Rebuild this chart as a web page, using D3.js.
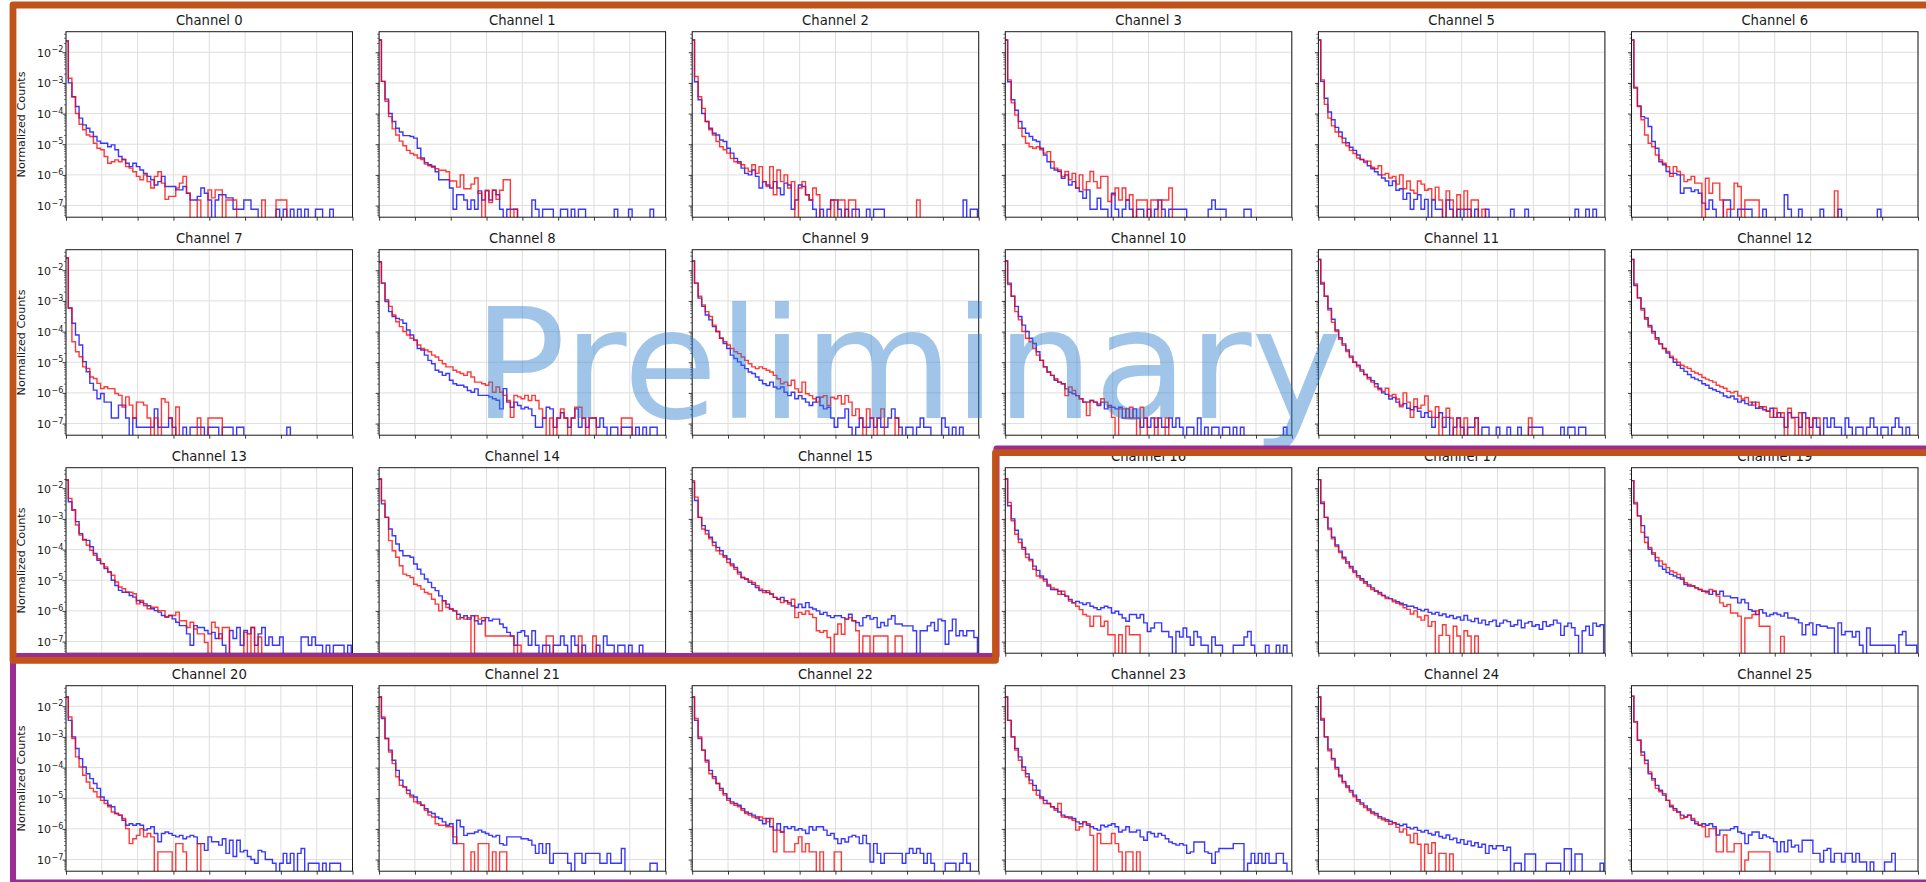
<!DOCTYPE html>
<html>
<head>
<meta charset="utf-8">
<script src="https://cdn.jsdelivr.net/npm/d3@7"></script>
<style>
  html, body { margin: 0; padding: 0; background: #ffffff; }
  svg { display: block; }
  text { font-family: "DejaVu Sans", "Liberation Sans", sans-serif; }
</style>
</head>
<body>
<svg id="chart" width="1926" height="882"></svg>
<script>
// Empty histogram bin (zero counts)
const _ = null;

// Channels shown, in reading order (6 per row)
const channels = [0, 1, 2, 3, 5, 6, 7, 8, 9, 10, 11, 12, 13, 14, 15, 16, 17, 19, 20, 21, 22, 23, 24, 25];

// Bin layout (bin units) and axis ticks
const binStart = -0.35;
const binWidth = 1;
const xTicks = [0, 10, 20, 30, 40, 50, 60, 70, 80];
const yDecades = [-2, -3, -4, -5, -6, -7];
const yLimitsLog = [-7.38, -1.33];
const yAxisLabel = "Normalized Counts";
const watermarkText = "Preliminary";

// log10(normalized counts) per bin, blue and red histograms for each channel
const blue0 = [-1.63,-3.0,-3.45,-3.77,-4.15,-4.37,-4.48,-4.6,-4.75,-4.9,-4.97,-4.97,-5.08,-5.02,-5.18,-5.4,-5.5,-5.62,-5.73,-5.62,-5.73,-5.84,-5.95,-6.05,-6.16,-6.33,-6.22,-6.05,-6.38,-6.38,-6.38,-6.49,-6.49,-6.38,-6.6,-6.82,-6.82,-6.7,-6.43,-6.6,-6.82,_,-6.82,-6.65,-6.65,-6.75,-6.75,-7.12,-7.12,-7.12,-6.82,-6.82,-7.12,-7.12,_,_,_,_,_,-7.12,_,-7.12,_,-7.12,_,-7.12,_,-7.12,_,_,-7.12,-7.12,_,_,-7.12];
const red0 = [-1.63,-2.85,-3.45,-4.0,-4.35,-4.53,-4.7,-4.75,-4.97,-5.13,-5.18,-5.4,-5.62,-5.57,-5.51,-5.57,-5.5,-5.73,-5.78,-5.9,-6.05,-6.16,-6.0,-6.22,-6.43,-6.05,-5.9,-6.27,-6.8,-6.7,-6.7,-6.43,-6.27,-6.05,-6.6,_,_,-6.82,_,_,-6.49,-6.75,-6.49,-6.49,_,-6.82,-6.82,-6.82,_,_,_,_,_,_,_,-6.82,_,_,_,-6.82,-6.82,-6.82];

const blue1 = [-1.6,-2.95,-3.53,-4.0,-4.26,-4.48,-4.6,-4.72,-4.72,-4.75,-4.8,-5.13,-5.45,-5.6,-5.67,-5.72,-5.9,-6.16,-6.16,-6.16,-6.43,-7.12,-6.65,-6.65,-6.82,-7.12,-6.82,-7.12,-6.52,-6.82,-6.52,-6.82,-6.5,-6.65,-7.12,_,-7.12,-7.12,-7.12,_,_,_,_,-6.82,-7.12,_,-7.12,-7.12,-7.12,_,_,-7.12,-7.12,_,-7.12,_,-7.12,-7.12,_,_,_,_,_,_,_,_,-7.12,_,_,_,-7.12,_,_,_,_,_,-7.12];
const red1 = [-1.6,-2.95,-3.6,-4.1,-4.5,-4.7,-4.9,-5.05,-5.2,-5.3,-5.35,-5.45,-5.5,-5.65,-5.7,-5.75,-5.8,-5.85,-5.85,-5.9,-6.2,-6.2,-6.4,-6.0,-6.45,-6.45,-6.3,-6.1,-6.6,_,-6.5,-6.9,-6.5,-6.8,-6.5,-6.16,-6.16,_,-7.12];

const blue2 = [-1.6,-2.96,-3.55,-4.0,-4.26,-4.48,-4.64,-4.7,-4.86,-4.91,-5.13,-5.29,-5.46,-5.57,-5.78,-5.95,-6.0,-5.84,-6.05,-6.43,-6.22,-6.33,-6.43,-6.22,-6.43,-6.65,-6.27,-6.33,-7.12,-6.82,-6.33,-6.38,-6.65,-6.82,-7.12,_,-7.12,_,-7.12,-6.82,-6.82,-7.12,_,-7.12,_,-7.12,-7.12,_,_,-7.12,_,-7.12,-7.12,-7.12,_,_,_,_,_,_,_,_,_,_,_,_,_,_,_,_,_,_,_,_,_,_,-6.82,_,-7.12,-7.12];
const red2 = [-1.6,-2.79,-3.45,-3.83,-4.26,-4.53,-4.7,-4.91,-5.08,-5.18,-5.29,-5.46,-5.57,-5.62,-5.67,-5.78,-5.89,-5.67,-5.95,-5.73,-6.22,-6.38,-5.73,-6.65,-5.84,-6.22,-6.0,-6.43,-6.22,_,-6.43,-6.22,-6.65,-6.82,-6.43,-6.65,_,_,_,-6.82,_,-6.82,-6.82,_,-6.82,-6.82,_,_,_,_,_,_,_,_,_,_,_,_,_,_,_,_,_,-6.82];

const blue3 = [-1.6,-2.96,-3.55,-3.89,-4.26,-4.48,-4.64,-4.75,-4.86,-4.91,-5.13,-5.35,-5.57,-5.78,-5.84,-5.89,-6.11,-6.0,-6.33,-6.22,-6.43,-6.54,-6.76,-6.49,-7.12,-7.12,-6.76,-7.12,-7.12,_,-6.6,-7.12,_,-7.12,-6.82,-7.12,_,-7.12,-7.12,_,-7.12,_,-7.12,-6.82,-7.12,_,-7.12,-7.12,-7.12,-7.12,-7.12,_,_,_,_,_,_,-7.12,-6.82,-7.12,-7.12,-7.12,_,_,_,_,_,-7.12,-7.12];
const red3 = [-1.6,-2.9,-3.65,-4.05,-4.48,-4.75,-4.97,-5.08,-5.13,-5.08,-5.18,-5.29,-5.24,-5.57,-5.78,-5.84,-6.05,-5.89,-6.16,-5.95,-6.43,-6.0,-6.49,-6.22,-5.89,-6.22,-6.43,-6.05,-6.05,-6.87,-6.65,-6.43,-6.82,-6.43,-6.82,-6.65,_,-6.82,-6.82,-6.82,_,-6.82,-6.82,_,-6.82,-6.82,-6.43];

const blue5 = [-1.6,-2.95,-3.5,-3.95,-4.2,-4.45,-4.6,-4.8,-4.95,-5.1,-5.2,-5.35,-5.5,-5.55,-5.7,-5.8,-5.9,-6.0,-6.1,-6.2,-6.35,-6.2,-6.5,-6.45,-6.8,-6.6,-7.12,-6.8,-6.65,-7.12,-6.8,_,-6.82,-7.12,-7.12,_,-6.82,-7.12,_,-7.12,_,-7.12,-7.12,_,-7.12,_,_,-7.12,_,_,_,_,_,_,-7.12,_,_,_,-7.12,_,_,_,_,_,_,_,_,_,_,_,_,_,-7.12,_,_,-7.12,_,-7.12];
const red5 = [-1.6,-2.9,-3.7,-4.15,-4.4,-4.6,-4.75,-4.95,-5.05,-5.2,-5.3,-5.45,-5.5,-5.6,-5.55,-5.75,-5.8,-5.7,-6.0,-5.95,-6.1,-6.05,-6.3,-6.0,-6.45,-6.2,-6.5,-6.6,-6.2,-6.3,-6.5,-6.45,-6.8,-6.4,-6.82,_,-6.52,-6.82,_,-6.65,-7.12,-6.52,_,-6.82,-6.82,_,-7.12];

const blue6 = [-1.6,-3.17,-3.75,-4.1,-4.15,-4.42,-4.91,-5.13,-5.57,-5.67,-5.89,-5.95,-5.95,-6.0,-6.6,-6.43,-6.43,-6.54,-6.49,-6.6,-6.92,-7.12,-6.82,-7.12,_,_,-6.82,-6.82,_,_,-7.12,-7.12,-7.12,-7.12,_,_,_,-7.12,_,_,_,_,_,-6.65,-7.12,_,_,-7.12,_,_,_,_,_,-7.12,_,_,_,_,-7.12,_,_,_,_,_,_,_,_,_,_,-7.12];
const red6 = [-1.6,-3.14,-3.77,-4.2,-4.7,-4.97,-5.08,-5.35,-5.51,-5.62,-5.73,-6.05,-5.73,-5.89,-6.0,-6.22,-6.16,-6.05,-6.27,-6.27,_,-6.11,-6.6,-6.27,-6.27,-6.82,_,-7.12,-7.12,-6.27,-6.38,_,-6.82,-6.82,-6.82,-6.82,_,_,_,_,_,_,_,_,_,_,_,_,_,_,_,_,_,_,_,_,_,-6.52];

const blue7 = [-1.6,-3.23,-3.73,-4.11,-4.44,-4.98,-5.31,-5.69,-5.91,-6.19,-6.02,-6.3,-6.3,-6.82,-6.82,-6.4,-6.4,-6.82,_,-6.82,-7.12,-7.12,-7.12,-7.12,-7.12,-6.52,-7.12,-7.12,-7.12,-6.82,-7.12,_,_,-7.12,_,-7.12,-7.12,-7.12,-7.12,_,-7.12,-7.12,-7.12,_,-7.12,-7.12,-7.12,_,-7.12,-7.12,_,_,_,_,_,_,_,_,_,_,_,_,-7.12];
const red7 = [-1.6,-3.23,-4.33,-4.66,-4.82,-5.15,-5.2,-5.48,-5.53,-5.69,-5.86,-5.8,-5.86,-5.86,-6.02,-6.08,-6.46,-6.13,-6.4,-6.82,-6.3,-6.3,-6.4,-6.82,_,-6.82,_,-6.19,-6.3,-6.82,_,-6.46,_,_,_,_,_,-6.82,_,_,-6.82,-6.82,-6.82,-6.82];

const blue8 = [-1.73,-2.42,-3.02,-3.35,-3.51,-3.57,-3.62,-3.73,-3.95,-4.11,-4.28,-4.55,-4.6,-4.77,-4.94,-5.05,-5.26,-5.32,-5.43,-5.37,-5.59,-5.7,-5.75,-5.75,-5.81,-5.92,-5.98,-5.87,-6.08,-6.08,-6.08,-6.13,-6.19,-6.24,-6.52,-5.86,-6.3,-6.47,-6.3,-6.41,-6.52,-6.47,-6.52,-6.74,-7.12,-7.12,-6.82,-6.47,-6.52,-7.12,-6.82,-6.65,-6.82,-7.12,-6.82,-6.52,-7.12,-6.82,-7.12,-6.82,-6.82,-7.12,-6.82,-7.12,_,-7.12,-7.12,_,-7.12,-7.12,-7.12,_,-7.12,_,-7.12,_,-7.12,-7.12];
const red8 = [-1.73,-2.42,-2.96,-3.18,-3.46,-3.68,-3.84,-4.0,-4.11,-4.22,-4.28,-4.44,-4.55,-4.6,-4.66,-4.77,-4.83,-4.94,-5.05,-5.15,-5.15,-5.26,-5.32,-5.37,-5.43,-5.32,-5.48,-5.65,-5.65,-5.7,-5.75,-5.65,-5.98,-5.81,-5.98,-6.08,-6.25,-6.8,-6.08,-6.13,-6.19,-6.08,-6.25,-6.08,-6.25,-6.52,-6.82,_,-6.82,_,-6.82,-6.52,-6.82,_,-6.82,-6.47,-6.47,-6.82,_,-6.82,-6.82,_,_,_,_,_,_,_,-6.82,-6.82,-6.82];

const blue9 = [-1.7,-2.42,-2.91,-3.18,-3.46,-3.62,-3.84,-4.0,-4.22,-4.39,-4.55,-4.77,-4.88,-4.99,-5.1,-5.21,-5.32,-5.37,-5.48,-5.59,-5.7,-5.76,-5.65,-5.81,-5.87,-5.81,-5.98,-6.09,-5.98,-6.19,-6.09,-6.19,-6.3,-6.41,-6.3,-6.14,-6.41,-6.52,-6.47,-6.82,-7.12,-6.82,-6.82,-6.52,-7.12,_,-7.12,-6.82,-7.12,-7.12,-6.82,-7.12,-6.82,-7.12,-7.12,-6.82,-6.52,-6.82,-7.12,_,-7.12,-7.12,_,-7.12,-6.82,-7.12,-7.12,_,_,_,-6.82,-7.12,_,-7.12,_,-7.12];
const red9 = [-1.7,-2.42,-2.85,-3.13,-3.35,-3.51,-3.79,-4.0,-4.22,-4.33,-4.44,-4.55,-4.66,-4.72,-4.83,-4.94,-5.05,-5.15,-5.21,-5.15,-5.21,-5.26,-5.32,-5.43,-5.54,-5.7,-5.65,-5.76,-5.59,-5.87,-5.98,-5.65,-6.03,-6.09,-6.19,-6.3,-6.14,-6.09,-6.41,-6.14,-6.19,-6.09,-6.36,-6.09,-6.3,-6.74,-6.52,-6.82,_,-6.52,-6.82,_,-6.82,-6.52,_,_,_,-6.82];

const blue10 = [-1.7,-2.42,-2.85,-3.18,-3.51,-3.79,-4.0,-4.22,-4.39,-4.66,-4.94,-5.15,-5.32,-5.43,-5.59,-5.65,-5.7,-5.87,-5.98,-6.03,-6.09,-6.19,-6.3,-6.3,-6.25,-6.3,-6.41,-6.3,-6.52,-6.41,-6.47,-6.52,-6.47,-6.82,-6.52,-6.82,-6.52,-6.82,-7.12,-6.82,-7.12,-6.82,-7.12,-6.82,-7.12,-7.12,-6.82,-7.12,-6.82,-7.12,_,-7.12,-7.12,_,-6.82,_,-7.12,_,-7.12,-7.12,_,-7.12,-7.12,_,-7.12,_,-7.12,_,_,_,_,_,_,_,_,_,_,_,-7.12];
const red10 = [-1.7,-2.47,-2.85,-3.35,-3.62,-4.0,-4.22,-4.33,-4.55,-4.77,-4.94,-5.15,-5.32,-5.43,-5.54,-5.65,-5.7,-6.09,-5.81,-5.92,-6.09,-6.19,-6.3,-6.74,-6.25,-6.3,-6.36,-6.19,-6.3,-6.47,-6.8,_,-6.52,-6.52,-6.82,-6.47,-6.82,_,-6.47,-6.82,_,_,-6.82,_,_,-6.82];

const blue11 = [-1.65,-2.45,-2.85,-3.25,-3.6,-3.95,-4.2,-4.4,-4.6,-4.8,-5.0,-5.1,-5.25,-5.4,-5.5,-5.6,-5.7,-5.85,-6.0,-6.05,-6.2,-6.15,-6.3,-6.4,-6.35,-6.5,-6.55,-6.45,-6.6,-6.8,-6.65,-6.8,-7.12,-6.8,-6.65,-7.12,-6.8,_,-7.12,-6.82,-7.12,_,-7.12,-7.12,-6.82,_,-7.12,-7.12,_,_,-7.12,_,_,-7.12,_,_,-7.12,_,_,-7.12,-7.12,-7.12,-7.12,_,_,_,_,_,-7.12,_,-7.12,-7.12,_,-7.12,-7.12];
const red11 = [-1.65,-2.4,-2.85,-3.3,-3.7,-4.0,-4.25,-4.45,-4.65,-4.85,-5.0,-5.15,-5.3,-5.4,-5.55,-5.65,-5.8,-5.9,-5.95,-5.85,-6.1,-6.05,-6.2,-6.45,-6.0,-6.3,-6.8,-6.2,-6.5,-6.4,-6.1,-6.6,-6.8,-6.45,_,-6.8,-6.5,-6.82,_,-6.82,_,-6.82,_,_,-6.82,_,_,_,_,_,_,_,_,_,_,_,_,_,_,-6.82];

const blue12 = [-1.65,-2.5,-2.9,-3.25,-3.55,-3.8,-4.0,-4.2,-4.4,-4.55,-4.7,-4.85,-5.0,-5.1,-5.2,-5.3,-5.4,-5.5,-5.55,-5.6,-5.7,-5.75,-5.85,-5.9,-5.95,-6.0,-6.1,-6.15,-6.1,-6.2,-6.3,-6.25,-6.35,-6.4,-6.3,-6.5,-6.45,-6.55,-6.6,-6.5,-6.8,-6.65,-6.8,-7.12,-6.65,-6.8,-6.8,-7.12,-6.65,-6.82,-7.12,-6.82,-7.12,_,-6.82,-7.12,-6.82,-7.12,-7.12,_,-6.82,-7.12,_,-7.12,-7.12,_,-7.12,-6.82,-7.12,_,-7.12,-7.12,_,-7.12,-6.82,-7.12,_,-7.12];
const red12 = [-1.65,-2.45,-2.9,-3.3,-3.6,-3.85,-4.05,-4.25,-4.4,-4.55,-4.65,-4.8,-4.9,-5.0,-5.1,-5.15,-5.2,-5.3,-5.35,-5.4,-5.5,-5.55,-5.6,-5.65,-5.75,-5.8,-5.85,-5.95,-6.0,-5.95,-6.1,-6.2,-6.15,-6.3,-6.4,-6.3,-6.5,-6.45,-6.6,-6.8,-6.5,-6.8,-6.65,_,-6.5,-6.82,_,-6.65,_,-6.82,_,-6.82,-6.82];

const blue13 = [-1.73,-2.44,-2.71,-3.09,-3.48,-3.67,-3.7,-3.91,-4.13,-4.35,-4.46,-4.62,-4.73,-5.0,-5.17,-5.33,-5.39,-5.39,-5.5,-5.55,-5.66,-5.72,-5.77,-5.83,-5.93,-5.99,-6.04,-6.15,-6.2,-6.15,-6.26,-6.37,-6.48,-6.48,-6.75,-7.12,-6.48,-6.54,-6.54,-6.64,-6.75,-6.7,-6.9,-6.75,-7.12,_,-6.64,-6.9,-6.54,-7.12,-6.64,-6.75,-6.54,-7.12,-6.75,-6.54,-7.12,-6.85,-7.12,-7.12,-6.85,_,_,_,_,_,-6.85,-6.85,-7.12,-6.85,-7.12,-7.12,_,-7.12,_,-7.12,-7.12,-7.12,_,-7.12];
const red13 = [-1.73,-2.33,-2.71,-3.2,-3.53,-3.69,-3.86,-4.02,-4.19,-4.3,-4.46,-4.57,-4.73,-4.84,-5.06,-5.22,-5.28,-5.39,-5.39,-5.44,-5.77,-5.66,-5.83,-5.93,-5.88,-5.88,-5.99,-5.99,-6.2,-6.15,-6.15,-6.04,-6.32,-6.32,-6.54,-6.37,-6.59,-6.75,-6.75,-7.03,_,-6.37,-6.54,-6.9,-6.54,-6.54,_,_,_,_,-6.7,_,-6.54,_,-6.85];

const blue14 = [-1.7,-2.51,-2.95,-3.33,-3.55,-3.82,-4.04,-4.2,-4.2,-4.25,-4.47,-4.64,-4.8,-4.96,-5.07,-5.24,-5.34,-5.51,-5.67,-5.78,-5.94,-6.0,-6.11,-6.22,-6.16,-6.27,-6.16,-6.32,-6.43,-6.32,-6.22,-6.32,-6.27,-6.27,-6.43,-6.54,-6.7,-6.82,-7.12,-6.7,-6.65,-6.82,-7.12,-6.65,-7.12,_,-7.12,-7.12,_,-7.12,-7.12,-6.82,-7.12,_,-6.82,-7.12,_,-7.12,_,_,_,-7.12,_,-6.82,-7.12,-7.12,_,-7.12,-7.12,_,-7.12,_,_,-7.12];
const red14 = [-1.7,-2.4,-2.95,-3.71,-4.04,-4.25,-4.53,-4.8,-4.85,-4.91,-5.13,-5.18,-5.29,-5.4,-5.45,-5.62,-5.78,-6.0,-5.67,-5.89,-5.94,-6.0,-6.27,-6.22,-6.27,-6.22,_,-6.16,-6.27,-6.22,-6.82,-6.82,-6.82,-6.82,-6.82,-6.82,-6.82,-6.82,_,-7.12,_,_,_,_,_,_,_,-6.82,-6.82,_,_,_,_,_,_,_,-6.82,_,_,_,-6.82];

const blue15 = [-1.8,-2.4,-2.95,-3.22,-3.38,-3.6,-3.76,-3.93,-4.04,-4.2,-4.31,-4.47,-4.58,-4.74,-4.91,-4.96,-5.07,-5.13,-5.24,-5.34,-5.34,-5.4,-5.45,-5.56,-5.62,-5.56,-5.67,-5.73,-5.84,-5.89,-5.78,-5.89,-5.73,-5.89,-5.94,-6.0,-6.11,-6.05,-6.16,-6.22,-6.16,-6.16,-6.22,-6.27,-6.11,-6.32,-6.38,-6.49,-6.22,-6.16,-6.27,-6.22,-6.54,-6.38,-6.49,-6.27,-6.16,-6.43,-6.43,-6.49,-6.49,-6.49,-6.65,_,-6.65,-6.65,-6.49,-6.38,-6.65,-6.27,-6.32,-7.09,-6.65,-6.27,-6.81,-6.65,-6.81,-6.65,-6.65,-6.87];
const red15 = [-1.75,-2.29,-2.95,-3.33,-3.49,-3.65,-3.87,-4.04,-4.15,-4.25,-4.42,-4.53,-4.64,-4.8,-4.91,-4.96,-5.02,-5.07,-5.18,-5.29,-5.4,-5.34,-5.45,-5.56,-5.62,-5.73,-5.67,-5.78,-5.62,-6.22,-6.05,-6.11,-6.0,-6.11,-6.22,-6.65,-6.7,-6.65,-6.87,_,-6.76,-6.43,-6.76,-6.27,-6.22,-6.32,-6.65,_,-6.82,-6.82,_,-6.82,-6.82,-6.82,-6.82,_,_,-6.82,-6.82];

const blue16 = [-1.69,-2.57,-3.0,-3.37,-3.66,-3.93,-4.15,-4.32,-4.54,-4.68,-4.86,-4.97,-5.19,-5.3,-5.3,-5.36,-5.46,-5.52,-5.63,-5.74,-5.69,-5.74,-5.79,-5.74,-5.85,-5.9,-5.96,-5.9,-5.85,-5.9,-6.07,-6.01,-6.12,-6.23,-6.34,-6.12,-6.12,-6.23,-6.12,-6.39,-6.67,-6.56,-6.39,-6.39,-6.67,-6.67,-6.85,_,-6.67,-6.85,-6.56,-6.85,-7.12,-6.67,-6.85,-7.12,-7.12,_,-6.85,-7.12,-7.12,_,_,_,-7.12,-7.12,-7.12,-6.85,-6.67,-7.12,_,_,_,-7.12,_,_,-7.12,_,-7.12];
const red16 = [-1.69,-2.46,-3.06,-3.5,-3.77,-3.99,-4.26,-4.37,-4.64,-4.86,-4.92,-5.03,-5.14,-5.25,-5.3,-5.46,-5.36,-5.52,-5.68,-5.74,-5.85,-5.96,-6.12,-6.17,-6.5,-6.17,-6.17,-6.5,-6.34,-6.78,-6.78,_,-6.78,_,-6.5,-6.78,-6.78,-6.78];

const blue17 = [-1.72,-2.5,-2.95,-3.3,-3.6,-3.85,-4.05,-4.25,-4.4,-4.55,-4.7,-4.85,-4.95,-5.05,-5.15,-5.25,-5.35,-5.4,-5.5,-5.55,-5.6,-5.65,-5.7,-5.75,-5.8,-5.85,-5.85,-5.9,-5.95,-6.0,-5.95,-6.05,-6.1,-6.05,-6.15,-6.1,-6.2,-6.15,-6.25,-6.2,-6.3,-6.15,-6.3,-6.35,-6.25,-6.4,-6.3,-6.45,-6.35,-6.3,-6.5,-6.4,-6.3,-6.35,-6.5,-6.45,-6.3,-6.55,-6.4,-6.35,-6.5,-6.45,-6.6,-6.35,-6.5,-6.45,-6.3,-6.4,-6.8,-6.5,-6.4,-6.55,-6.8,_,-6.65,-6.5,-6.8,-6.4,-6.5,-6.45];
const red17 = [-1.72,-2.45,-2.95,-3.35,-3.65,-3.9,-4.1,-4.3,-4.45,-4.6,-4.75,-4.9,-5.0,-5.1,-5.2,-5.3,-5.35,-5.45,-5.5,-5.6,-5.6,-5.7,-5.75,-5.8,-5.9,-5.95,-6.1,-6.0,-6.2,-6.3,-6.15,-6.5,-6.35,_,-6.8,-6.45,-6.8,_,-6.5,-6.82,_,-6.65,-6.82,_,-6.82];

const blue19 = [-1.75,-2.51,-2.9,-3.22,-3.6,-3.99,-4.15,-4.37,-4.54,-4.64,-4.75,-4.81,-4.86,-4.92,-4.97,-5.14,-5.19,-5.19,-5.25,-5.3,-5.36,-5.36,-5.46,-5.36,-5.46,-5.36,-5.52,-5.52,-5.57,-5.57,-5.74,-5.63,-5.74,-5.96,-6.01,-6.12,-5.96,-6.07,-6.17,-6.12,-6.07,-6.12,-6.17,-6.07,-6.23,-6.23,-6.28,-6.39,-6.78,-6.45,-6.39,-6.78,-6.45,-6.5,-6.5,-6.56,-6.56,_,-6.39,-6.78,-6.67,-6.67,-6.85,-6.67,-7.12,_,-6.56,-7.12,-7.12,-7.12,-7.12,-7.12,-7.12,-7.12,_,-6.78,-6.67,-7.12,-7.12,-7.12];
const red19 = [-1.75,-2.46,-2.9,-3.44,-3.77,-3.93,-4.1,-4.26,-4.37,-4.48,-4.59,-4.7,-4.75,-4.81,-4.92,-5.08,-5.14,-5.19,-5.25,-5.3,-5.36,-5.41,-5.3,-5.36,-5.52,-5.74,-5.85,-5.79,-6.07,-6.07,-6.17,_,-6.23,-6.23,-6.12,-6.0,-6.5,-6.5,-6.5,_,_,_,-6.83];

const blue20 = [-1.7,-2.46,-3.0,-3.38,-3.71,-3.98,-4.2,-4.36,-4.52,-4.68,-4.96,-5.07,-5.23,-5.28,-5.5,-5.55,-5.72,-5.88,-5.83,-5.88,-5.83,-5.88,-6.04,-5.99,-5.93,-6.15,-6.42,-6.15,-6.1,-6.15,-6.21,-6.26,-6.21,-6.32,-6.26,-6.21,-6.26,-6.48,-6.48,-6.7,-6.26,-6.42,-6.42,-6.53,-6.32,-6.8,-6.37,-6.9,-6.37,-6.75,-6.7,-6.9,-7.0,-7.12,-6.7,-6.75,-7.0,-7.0,-7.12,_,-7.12,-6.8,-7.12,-6.8,_,-6.8,-6.64,_,-7.12,-7.12,-7.12,_,-7.12,_,-7.12,-7.12,-7.12];
const red20 = [-1.7,-2.35,-3.05,-3.65,-3.98,-4.25,-4.47,-4.68,-4.79,-4.96,-5.07,-5.17,-5.28,-5.45,-5.5,-5.55,-5.66,-5.99,-6.48,-6.32,-6.21,-5.99,-6.26,-6.15,-6.26,_,-6.75,-6.75,-6.75,-6.75,_,-6.48,-6.48,-6.75,_,_,_,-6.48];

const blue21 = [-1.7,-2.4,-3.05,-3.43,-3.76,-4.09,-4.41,-4.63,-4.74,-4.9,-4.96,-5.12,-5.23,-5.34,-5.45,-5.5,-5.61,-5.66,-5.77,-5.88,-5.83,-6.48,-5.72,-5.93,-6.21,-6.15,-6.15,-6.1,-6.04,-6.1,-6.15,-6.21,-6.26,-6.21,-6.48,-6.53,-6.26,-6.26,-6.26,-6.26,-6.32,-6.32,-6.37,-6.53,-6.8,-6.48,-6.8,-6.48,-7.12,-6.8,-6.8,-6.8,-6.8,-7.12,_,-6.8,-6.8,-7.12,-6.8,-6.8,-6.8,-6.8,-7.12,-7.12,-6.8,-7.12,-7.12,-7.12,-6.64,_,_,_,_,_,_,_,-7.12,-7.12];
const red21 = [-1.7,-2.35,-3.05,-3.49,-3.87,-4.3,-4.58,-4.63,-4.85,-4.96,-5.12,-5.17,-5.23,-5.39,-5.55,-5.61,-5.83,-5.88,-5.88,-5.93,-5.93,-6.26,-6.48,-6.48,_,_,-6.75,_,-6.48,-6.48,-6.48,_,-6.75,_,-6.75,-6.75];

const blue22 = [-1.7,-2.46,-3.05,-3.43,-3.76,-4.09,-4.3,-4.52,-4.68,-4.85,-5.01,-5.12,-5.17,-5.23,-5.34,-5.45,-5.5,-5.55,-5.61,-5.72,-5.83,-5.66,-5.93,-6.04,-5.83,-6.1,-5.93,-5.99,-5.93,-6.04,-5.99,-6.04,-6.15,-5.93,-6.04,-5.93,-5.93,-6.04,-6.21,-6.15,-6.32,-6.48,-6.32,-6.43,-6.26,-6.21,-6.26,-6.48,-6.21,-6.48,-7.08,-6.48,-6.8,-7.12,-6.8,-6.8,-6.8,-6.8,-6.8,-7.12,-6.8,-6.64,-6.8,-6.64,-6.8,-7.12,-6.8,-7.12,_,_,_,-7.12,-7.12,-7.12,_,-7.12,-6.8,-7.12];
const red22 = [-1.7,-2.4,-3.0,-3.43,-3.82,-4.2,-4.36,-4.52,-4.74,-4.9,-5.07,-5.17,-5.23,-5.28,-5.39,-5.5,-5.55,-5.61,-5.66,-5.61,-5.66,-5.77,-5.66,-6.75,-6.04,-6.1,-6.75,-6.75,-6.75,-6.48,-6.26,-6.75,-6.48,-6.75,-6.75,_,-6.75,_,_,_,-6.75,-6.75];

const blue23 = [-1.7,-2.46,-3.0,-3.38,-3.65,-3.98,-4.2,-4.41,-4.58,-4.74,-4.96,-5.07,-5.17,-5.28,-5.34,-5.45,-5.55,-5.61,-5.61,-5.66,-5.77,-5.83,-5.77,-5.88,-5.93,-5.99,-6.04,-5.88,-5.93,-5.88,-5.83,-5.93,-6.1,-6.04,-5.93,-6.1,-6.1,-6.04,-6.26,-6.37,-6.1,-6.15,-6.26,-6.15,-6.21,-6.32,-6.43,-6.48,-6.53,-6.48,-6.53,-6.8,-6.75,-6.43,-6.43,-6.43,-6.75,-6.8,-7.12,-6.75,-6.64,-6.64,-6.64,-6.64,-6.48,-6.48,-6.48,_,-7.12,-6.8,-7.12,-6.8,-7.12,-6.8,-7.12,-7.12,-6.8,-6.8,-7.12];
const red23 = [-1.7,-2.46,-3.0,-3.43,-3.76,-4.09,-4.3,-4.52,-4.74,-4.9,-5.01,-5.17,-5.17,-5.28,-5.39,-5.17,-5.61,-5.61,-5.66,-5.72,-6.04,-5.93,-5.77,-5.83,-6.21,_,-6.15,-6.48,-6.48,-6.48,-6.15,-6.48,-6.75,_,-6.75,-6.75,_,-6.75];

const blue24 = [-1.7,-2.45,-3.0,-3.4,-3.7,-4.0,-4.25,-4.45,-4.6,-4.75,-4.9,-5.05,-5.15,-5.25,-5.35,-5.45,-5.5,-5.6,-5.65,-5.7,-5.75,-5.8,-5.85,-5.9,-5.85,-5.95,-6.0,-5.95,-6.05,-6.1,-6.05,-6.15,-6.2,-6.1,-6.25,-6.3,-6.2,-6.35,-6.3,-6.45,-6.35,-6.5,-6.4,-6.55,-6.45,-6.6,-6.5,-6.8,-6.55,-6.65,-6.55,-6.55,-6.7,-6.6,_,-7.12,-7.12,_,-6.82,-6.82,-6.82,_,_,_,-7.12,-7.12,-7.12,-7.12,_,-6.65,-6.65,_,-6.82,-6.82,_,_,_,_,_,-7.12];
const red24 = [-1.7,-2.4,-3.0,-3.45,-3.75,-4.05,-4.3,-4.5,-4.65,-4.8,-4.95,-5.1,-5.2,-5.3,-5.4,-5.5,-5.55,-5.65,-5.7,-5.75,-5.85,-5.8,-5.95,-6.1,-6.0,-6.2,-6.45,-6.15,-6.5,_,-6.5,-6.8,-6.45,_,-6.8,-6.8,_,-6.82];

const blue25 = [-1.67,-2.51,-3.11,-3.49,-3.76,-4.2,-4.36,-4.58,-4.74,-4.9,-5.07,-5.28,-5.34,-5.45,-5.55,-5.61,-5.55,-5.72,-5.83,-5.88,-5.83,-5.88,-5.83,-5.93,-6.2,-6.04,-6.04,-6.04,-5.99,-5.93,-6.1,-6.15,-6.48,-6.2,-6.1,-6.1,-6.31,-6.2,-6.26,-6.31,-6.42,-6.75,-6.42,-6.75,-6.37,-6.59,-6.53,-6.75,-6.37,-6.37,-6.37,-6.8,-6.8,-7.08,-6.7,-6.64,-7.08,-6.8,-6.8,-7.08,-6.8,-6.8,-7.08,-6.8,-7.08,-7.08,_,-7.08,_,_,_,-7.08,-7.08,-6.8];
const red25 = [-1.67,-2.51,-3.11,-3.6,-3.87,-4.14,-4.41,-4.68,-4.79,-4.85,-5.07,-5.23,-5.39,-5.45,-5.66,-5.61,-5.55,-5.66,-5.77,-5.88,-5.93,-6.26,-5.99,-5.99,-6.75,-6.75,-6.2,-6.75,-6.75,-6.48,-6.48,_,-7.02,-6.75,-6.75,-6.75,-6.75,-6.75,-6.75];

const blueSeries = [blue0, blue1, blue2, blue3, blue5, blue6, blue7, blue8, blue9, blue10, blue11, blue12,
                    blue13, blue14, blue15, blue16, blue17, blue19, blue20, blue21, blue22, blue23, blue24, blue25];
const redSeries = [red0, red1, red2, red3, red5, red6, red7, red8, red9, red10, red11, red12,
                   red13, red14, red15, red16, red17, red19, red20, red21, red22, red23, red24, red25];

// ---- layout ----
const W = 1926, H = 882;
const nCols = 6;
const panelW = 286.5, panelH = 185.5;
const colX = d3.range(nCols).map(c => 66 + c * 313.1);
const rowY = d3.range(4).map(r => 31.7 + r * 218);

const x = d3.scaleLinear().domain([xTicks[0], xTicks[xTicks.length - 1]]).range([0, panelW]);
const y = d3.scaleLog().domain([Math.pow(10, yLimitsLog[0]), Math.pow(10, yLimitsLog[1])]).range([panelH, 0]);

const minorTicks = [];
for (let e = -8; e <= -1; e++) {
  for (let m = 2; m <= 9; m++) {
    const v = m * Math.pow(10, e);
    if (v > y.domain()[0] && v < y.domain()[1]) minorTicks.push(v);
  }
}

const svg = d3.select("#chart");
svg.append("rect").attr("width", W).attr("height", H).attr("fill", "#ffffff");

svg.append("defs").append("clipPath").attr("id", "plotArea")
  .append("rect").attr("x", 0).attr("y", 0).attr("width", panelW).attr("height", panelH);

// outline of a step histogram; empty bins fall below the plot and are clipped
function stepPath(logVals) {
  const below = panelH + 30;
  const edge = i => x(binStart + i * binWidth);
  const pts = [[edge(0), below]];
  logVals.forEach((v, i) => {
    const yy = (v === null || v === undefined) ? below : y(Math.pow(10, v));
    pts.push([edge(i), yy], [edge(i + 1), yy]);
  });
  pts.push([edge(logVals.length), below]);
  return d3.line()(pts);
}

channels.forEach((ch, k) => {
  const col = k % nCols, row = Math.floor(k / nCols);
  const g = svg.append("g").attr("transform", `translate(${colX[col]},${rowY[row]})`);

  // grid
  g.append("g").selectAll("line").data(xTicks).join("line")
    .attr("x1", d => x(d)).attr("x2", d => x(d))
    .attr("y1", 0).attr("y2", panelH)
    .attr("stroke", "#dedede").attr("stroke-width", 1);
  g.append("g").selectAll("line").data(yDecades).join("line")
    .attr("x1", 0).attr("x2", panelW)
    .attr("y1", d => y(Math.pow(10, d))).attr("y2", d => y(Math.pow(10, d)))
    .attr("stroke", "#dedede").attr("stroke-width", 1);

  // histograms
  const plot = g.append("g").attr("clip-path", "url(#plotArea)");
  plot.append("path").attr("d", stepPath(blueSeries[k]))
    .attr("fill", "none").attr("stroke", "#0000ff").attr("stroke-opacity", 0.78)
    .attr("stroke-width", 1.4).attr("stroke-linejoin", "miter");
  plot.append("path").attr("d", stepPath(redSeries[k]))
    .attr("fill", "none").attr("stroke", "#ff0000").attr("stroke-opacity", 0.78)
    .attr("stroke-width", 1.4).attr("stroke-linejoin", "miter");

  // axes
  const xAxis = g.append("g").attr("transform", `translate(0,${panelH})`)
    .call(d3.axisBottom(x).tickValues(xTicks).tickFormat("").tickSize(3.5).tickSizeOuter(0));
  xAxis.select(".domain").remove();
  xAxis.selectAll("line").attr("stroke", "#222").attr("stroke-width", 0.9);

  const yMajor = g.append("g")
    .call(d3.axisLeft(y).tickValues(yDecades.map(d => Math.pow(10, d))).tickFormat("").tickSize(3.5).tickSizeOuter(0));
  yMajor.select(".domain").remove();
  yMajor.selectAll("line").attr("stroke", "#222").attr("stroke-width", 0.9);

  const yMinor = g.append("g")
    .call(d3.axisLeft(y).tickValues(minorTicks).tickFormat("").tickSize(2).tickSizeOuter(0));
  yMinor.select(".domain").remove();
  yMinor.selectAll("line").attr("stroke", "#222").attr("stroke-width", 0.6);

  // frame
  g.append("rect").attr("x", 0).attr("y", 0).attr("width", panelW).attr("height", panelH)
    .attr("fill", "none").attr("stroke", "#1a1a1a").attr("stroke-width", 1);

  // title
  g.append("text").attr("x", panelW / 2).attr("y", -7)
    .attr("text-anchor", "middle").attr("font-size", 13.2).attr("fill", "#1a1a1a")
    .text(`Channel ${ch}`);

  if (col === 0) {
    g.append("g").selectAll("text").data(yDecades).join("text")
      .attr("x", -2.7).attr("y", d => y(Math.pow(10, d)) + 4.6)
      .attr("text-anchor", "end").attr("font-size", 11).attr("fill", "#1a1a1a")
      .each(function (d) {
        const t = d3.select(this);
        t.append("tspan").text("10");
        t.append("tspan").attr("dy", -4.6).attr("dx", 0.6).attr("font-size", 8).text("\u2212" + Math.abs(d));
      });
    g.append("text")
      .attr("transform", `translate(${24.5 - colX[0]},${panelH / 2}) rotate(-90)`)
      .attr("text-anchor", "middle").attr("font-size", 11.2).attr("fill", "#1a1a1a")
      .text(yAxisLabel);
  }
});

// watermark
svg.append("text")
  .attr("x", 473).attr("y", 418)
  .attr("font-size", 154).attr("fill", "#2f80d0").attr("fill-opacity", 0.46)
  .text(watermarkText);

// group outlines
svg.append("path")
  .attr("d", d3.line()([[1940, 448.5], [996.5, 448.5], [996.5, 656], [13, 656], [13, 882.5], [1940, 882.5]]))
  .attr("fill", "none").attr("stroke", "#9c2c93").attr("stroke-width", 6)
  .attr("stroke-linejoin", "round").attr("stroke-linecap", "round");
svg.append("path")
  .attr("d", d3.line()([[1940, 5], [13, 5], [13, 660.3], [995.5, 660.3], [995.5, 452.7], [1940, 452.7]]))
  .attr("fill", "none").attr("stroke", "#c0521a").attr("stroke-width", 6.8)
  .attr("stroke-linejoin", "round").attr("stroke-linecap", "round");
</script>
</body>
</html>
